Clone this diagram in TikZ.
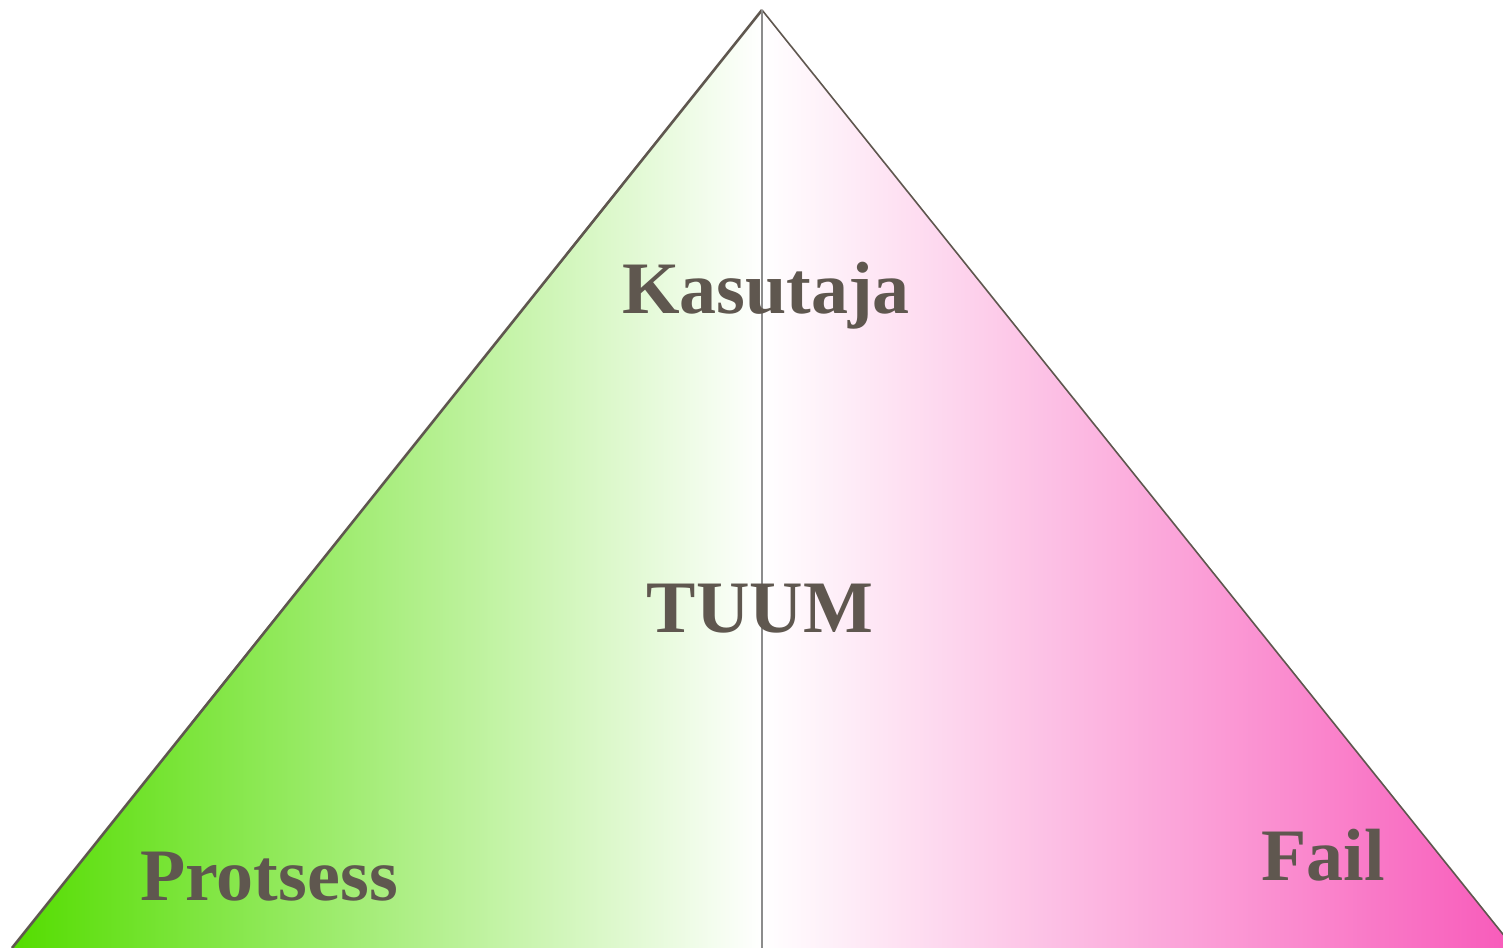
\documentclass[tikz,border=0pt]{standalone}
\usepackage{fontspec}
\setmainfont{Liberation Serif}
\definecolor{txt}{RGB}{95,87,79}
\definecolor{edge}{RGB}{95,87,79}
\definecolor{grn}{RGB}{84,221,0}
\definecolor{pnk}{RGB}{248,90,186}
\definecolor{mid}{RGB}{140,140,140}
\begin{document}
\begin{tikzpicture}[x=1pt,y=-1pt,
  lbl/.style={text=txt,font=\bfseries\fontsize{74}{88}\selectfont,inner sep=0pt,anchor=base}]
\useasboundingbox (0,0) rectangle (1503,947);
\clip (0,0) rectangle (1503,947);
\coordinate (apex) at (762,10);
\coordinate (bl) at (12,948);
\coordinate (br) at (1514,948);
\coordinate (bm) at (762,948);
\shade[left color=grn,right color=white] (bl) -- (apex) -- (bm) -- cycle;
\shade[left color=white,right color=pnk] (bm) -- (apex) -- (br) -- cycle;
\draw[edge,line width=2.6pt] (bl) -- (apex);
\draw[edge,line width=1.6pt] (apex) -- (br);
\draw[mid,line width=1.6pt] (apex) -- (bm);
\node[lbl] (kas) at (766,313) {Kasutaja};
\node[lbl] (tuum) at (760,632) {TUUM};
\node[lbl] (prot) at (269,900) {Protsess};
\node[lbl] (fail) at (1323,880) {Fail};
\end{tikzpicture}
\end{document}
